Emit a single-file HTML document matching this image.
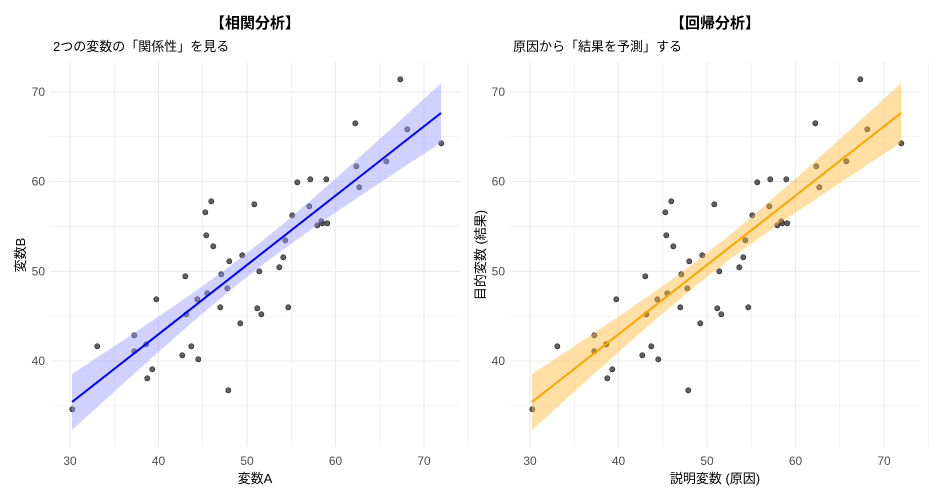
<!DOCTYPE html>
<html><head><meta charset="utf-8">
<style>
html,body{margin:0;padding:0;background:#fff;}
svg{display:block;font-family:"Liberation Sans","Noto Sans CJK JP",sans-serif;}
</style></head>
<body>
<svg id="s" width="934" height="500" viewBox="0 0 934 500" xmlns="http://www.w3.org/2000/svg"></svg>
<script>
var pts=[[72.3,409.3],[97.3,346.3],[134.3,335.3],[134.3,351.3],[146.3,344.3],[147.3,378.3],[152.3,369.3],[156.3,299.3],[182.3,355.3],[185.3,276.3],[186.3,314.3],[191.3,346.3],[197.3,299.3],[198.3,359.3],[205.3,212.3],[206.3,235.3],[207.3,293.3],[211.3,201.3],[213.3,246.3],[220.3,307.3],[221.3,274.3],[227.3,288.3],[228.3,390.3],[229.3,261.3],[240.3,323.3],[242.3,255.3],[254.3,204.3],[257.3,308.3],[259.3,271.3],[261.3,314.3],[279.3,267.3],[283.3,257.3],[285.3,240.3],[288.3,307.3],[292.3,215.3],[297.3,182.3],[309.3,206.3],[310.3,179.3],[317.3,225.3],[321.3,221.3],[322.3,223.3],[326.3,179.3],[327.3,223.3],[355.3,123.3],[356.3,166.3],[359.3,187.3],[386.3,161.3],[400.3,79.3],[407.3,129.3],[441.3,143.3]];
var h='';
function panel(o,col,fill,t,sub,xl,yl){
  var x0=50+o,x1=460+o;
  for(var v=30;v<=75;v+=5){var x=70+(v-30)*8.85+o;h+='<line x1="'+x+'" y1="62" x2="'+x+'" y2="447" stroke="#ebebeb" stroke-width="'+(v%10==0?1.1:0.55)+'"/>';}
  for(var v=35;v<=72.5;v+=5){var y=361-(v-40)*8.97;h+='<line x1="'+x0+'" y1="'+y+'" x2="'+x1+'" y2="'+y+'" stroke="#ebebeb" stroke-width="0.55"/>';}
  for(var v=40;v<=70;v+=10){var y=361-(v-40)*8.97;h+='<line x1="'+x0+'" y1="'+y+'" x2="'+x1+'" y2="'+y+'" stroke="#ebebeb" stroke-width="1.1"/>';
    h+='<text x="'+(45+o)+'" y="'+(y+4)+'" font-size="12" fill="#4d4d4d" text-anchor="end">'+v+'</text>';}
  for(var v=30;v<=70;v+=10){var x=70+(v-30)*8.85+o;h+='<text x="'+x+'" y="465" font-size="12" fill="#4d4d4d" text-anchor="middle">'+v+'</text>';}
  pts.forEach(function(p){h+='<circle cx="'+(p[0]+o)+'" cy="'+p[1]+'" r="2.6" fill="#444" fill-opacity="0.85" stroke="#222" stroke-width="0.6"/>';});
  var up=[],lo=[];
  for(var x=72;x<=441;x+=3){var yc=402+(x-72)*(113-402)/(441-72);var hw=Math.sqrt(144+0.0202*(x-250)*(x-250));up.push((x+o)+','+(yc-hw).toFixed(1));lo.unshift((x+o)+','+(yc+hw).toFixed(1));}
  h+='<polygon points="'+up.concat(lo).join(' ')+'" fill="'+fill+'" fill-opacity="0.45"/>';
  h+='<line x1="'+(72+o)+'" y1="402" x2="'+(441+o)+'" y2="113" stroke="'+col+'" stroke-width="2"/>';
  h+='<text x="'+(255+o)+'" y="28" font-size="15" font-weight="bold" fill="#000" text-anchor="middle">'+t+'</text>';
  h+='<text x="'+(53+o)+'" y="51" font-size="13" fill="#000">'+sub+'</text>';
  h+='<text x="'+(255+o)+'" y="483" font-size="13" fill="#000" text-anchor="middle">'+xl+'</text>';
  h+='<text transform="translate('+(25+o)+',255) rotate(-90)" font-size="13" fill="#000" text-anchor="middle">'+yl+'</text>';
}
panel(0,'#0000ff','#9999ff','【相関分析】','2つの変数の「関係性」を見る','変数A','変数B');
panel(460,'#ffa500','#ffb733','【回帰分析】','原因から「結果を予測」する','説明変数 (原因)','目的変数 (結果)');
document.getElementById('s').innerHTML=h;
</script>
</body></html>
